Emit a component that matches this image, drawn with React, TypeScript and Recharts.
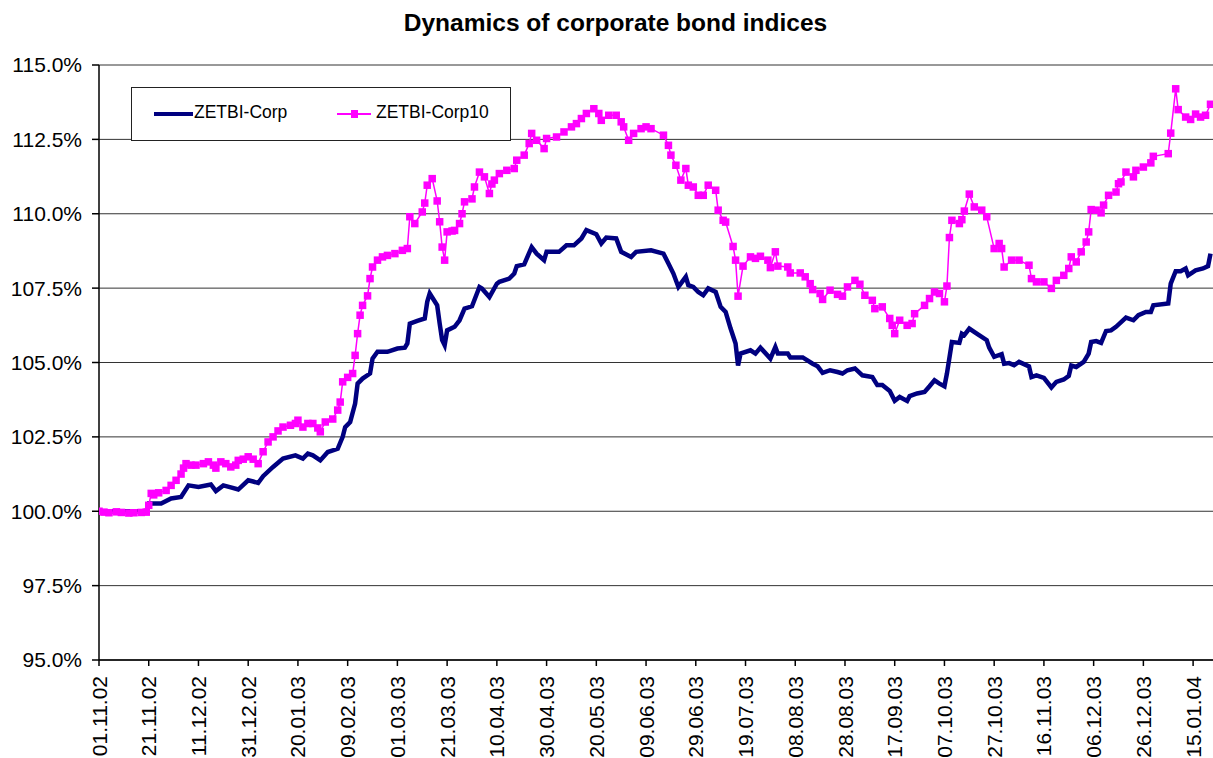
// Dynamics of corporate bond indices (ZETBI), Excel-like line chart, recharts.
import { LineChart, Line, XAxis, YAxis, CartesianGrid } from "recharts";

const FONT = "'Liberation Sans', Arial, sans-serif";

// x = days since 01.11.02
const tickDays = [0, 20, 40, 60, 80, 100, 120, 140, 160, 180, 200, 220, 240, 260, 280, 300, 320, 340, 360, 380, 400, 420, 440];
const tickLabels = [
  "01.11.02", "21.11.02", "11.12.02", "31.12.02", "20.01.03", "09.02.03", "01.03.03", "21.03.03",
  "10.04.03", "30.04.03", "20.05.03", "09.06.03", "29.06.03", "19.07.03", "08.08.03", "28.08.03",
  "17.09.03", "07.10.03", "27.10.03", "16.11.03", "06.12.03", "26.12.03", "15.01.04",
];
const yTicks = [95, 97.5, 100, 102.5, 105, 107.5, 110, 112.5, 115];

const corpDays = [
  0, 5, 10, 15, 19, 20, 25, 29, 33, 36, 40, 45, 47, 50, 53, 56, 60, 62, 64, 66, 70, 74, 79, 82, 84, 86, 89, 92,
  96, 98, 99, 101, 103, 104, 106, 109, 110, 112, 116, 120, 123, 124, 125, 128, 131, 132, 133, 136, 137, 138, 139,
  140, 143, 145, 147, 150, 153, 154, 157, 160, 161, 165, 167, 168, 171, 174, 176, 179, 180, 185, 188, 191, 194,
  196, 200, 202, 204, 208, 210, 214, 216, 222, 227, 229, 231, 233, 236, 237, 239, 241, 243, 245, 248, 250, 252,
  254, 256, 257, 258, 262, 264, 266, 270, 272, 273, 277, 278, 283, 287, 289, 291, 294, 297, 299, 301, 304, 307,
  311, 313, 315, 318, 320, 322, 325, 326, 329, 332, 334, 336, 338, 340, 341, 343, 346, 347, 348, 350, 353, 357,
  358, 360, 363, 364, 366, 368, 370, 374, 375, 377, 380, 383, 385, 388, 390, 391, 393, 396, 398, 399, 401, 403,
  405, 407, 409, 413, 416, 418, 421, 423, 424, 430, 431, 433, 435, 437, 438, 441, 444, 446, 447,
];
const corpValues = [
  100.0, 100.0, 100.0, 100.0, 100.0, 100.26, 100.26, 100.43, 100.48, 100.87, 100.82, 100.9, 100.68, 100.87, 100.8,
  100.73, 101.04, 101.0, 100.95, 101.18, 101.49, 101.77, 101.88, 101.77, 101.94, 101.88, 101.71, 101.99, 102.1,
  102.5, 102.83, 103.0, 103.62, 104.29, 104.46, 104.63, 105.13, 105.36, 105.36, 105.47, 105.5, 105.64, 106.31,
  106.4, 106.48, 107.04, 107.32, 106.92, 106.31, 105.75, 105.58, 106.08, 106.2, 106.42, 106.81, 106.89, 107.54,
  107.49, 107.2, 107.65, 107.71, 107.82, 107.99, 108.24, 108.3, 108.88, 108.66, 108.44, 108.72, 108.72, 108.94,
  108.94, 109.17, 109.45, 109.31, 109.0, 109.2, 109.17, 108.72, 108.55, 108.72, 108.77, 108.66, 108.33, 107.99,
  107.54, 107.88, 107.6, 107.54, 107.37, 107.26, 107.49, 107.37, 106.87, 106.7, 106.14, 105.64, 104.9, 105.3,
  105.41, 105.3, 105.5, 105.13, 105.52, 105.3, 105.3, 105.17, 105.17, 104.96, 104.87, 104.65, 104.74, 104.68,
  104.63, 104.74, 104.8, 104.57, 104.51, 104.24, 104.24, 104.04, 103.71, 103.84, 103.71, 103.87, 103.96, 104.01,
  104.2, 104.4, 104.29, 104.2, 104.63, 105.69, 105.66, 105.97, 105.92, 106.14, 105.97, 105.75, 105.5, 105.19,
  105.28, 104.96, 104.98, 104.91, 105.02, 104.87, 104.51, 104.57, 104.48, 104.16, 104.35, 104.43, 104.55, 104.9,
  104.85, 105.02, 105.3, 105.69, 105.72, 105.66, 106.06, 106.08, 106.2, 106.51, 106.42, 106.59, 106.7, 106.7,
  106.92, 106.98, 107.65, 108.07, 108.07, 108.16, 107.93, 108.1, 108.16, 108.24, 108.66,
];

const corp10Days = [
  0, 2, 4, 7, 9, 12, 14, 17, 19, 20, 21, 22, 24, 27, 29, 31, 33, 34, 35, 37, 39, 42, 44, 46, 47, 49, 51, 53, 55,
  56, 58, 60, 62, 64, 66, 68, 70, 72, 74, 77, 79, 80, 82, 84, 86, 88, 89, 91, 94, 96, 97, 98, 100, 102, 103, 104,
  105, 106, 108, 109, 110, 112, 114, 116, 119, 122, 124, 125, 127, 130, 131, 132, 134, 136, 137, 138, 139, 140,
  142, 143, 145, 146, 147, 150, 151, 153, 155, 157, 158, 159, 161, 164, 167, 168, 171, 173, 174, 176, 179, 180,
  184, 187, 190, 192, 194, 196, 199, 201, 202, 205, 208, 210, 211, 213, 215, 218, 220, 222, 227, 229, 230, 232,
  234, 236, 237, 239, 241, 243, 245, 248, 249, 251, 252, 255, 256, 257, 259, 262, 264, 266, 269, 270, 272, 273,
  277, 278, 282, 284, 286, 287, 290, 291, 294, 297, 299, 301, 304, 306, 308, 311, 312, 315, 318, 319, 320, 322,
  325, 327, 328, 332, 334, 336, 338, 340, 341, 342, 343, 346, 347, 348, 350, 352, 355, 357, 360, 362, 363, 364,
  367, 370, 374, 375, 377, 380, 383, 385, 388, 390, 391, 393, 395, 397, 398, 399, 401, 403, 404, 406, 409, 410,
  411, 413, 416, 417, 420, 423, 424, 430, 431, 433, 434, 437, 439, 441, 443, 445, 447,
];
const corp10Values = [
  100.0, 99.97, 99.95, 99.98, 99.96, 99.94, 99.95, 99.96, 99.97, 100.2, 100.6, 100.55, 100.62, 100.7, 100.87,
  101.04, 101.25, 101.45, 101.6, 101.55, 101.55, 101.6, 101.66, 101.55, 101.45, 101.66, 101.6, 101.49, 101.55,
  101.71, 101.75, 101.83, 101.75, 101.6, 102.0, 102.33, 102.5, 102.7, 102.83, 102.89, 102.95, 103.06, 102.83,
  102.95, 102.95, 102.8, 102.67, 103.0, 103.1, 103.4, 103.67, 104.35, 104.5, 104.63, 105.24, 105.97, 106.59,
  106.92, 107.24, 107.82, 108.21, 108.44, 108.55, 108.6, 108.66, 108.77, 108.83, 109.9, 109.67, 110.06, 110.36,
  110.96, 111.18, 110.43, 109.73, 108.88, 108.44, 109.39, 109.42, 109.44, 109.67, 110.0, 110.4, 110.5, 110.9,
  111.4, 111.24, 110.68, 111.0, 111.13, 111.35, 111.46, 111.52, 111.8, 111.97, 112.36, 112.7, 112.47, 112.19,
  112.53, 112.58, 112.75, 112.92, 113.03, 113.2, 113.37, 113.53, 113.37, 113.14, 113.31, 113.31, 113.09, 112.92,
  112.47, 112.7, 112.86, 112.92, 112.86, 112.64, 112.3, 111.97, 111.63, 111.13, 111.52, 110.96, 110.9, 110.62,
  110.62, 110.96, 110.79, 110.12, 109.78, 109.72, 108.9, 108.44, 107.23, 108.24, 108.55, 108.5, 108.57, 108.44,
  108.19, 108.72, 108.24, 108.21, 108.01, 108.01, 107.88, 107.65, 107.45, 107.32, 107.12, 107.43, 107.29, 107.23,
  107.54, 107.76, 107.63, 107.26, 107.09, 106.81, 106.87, 106.48, 106.25, 105.97, 106.42, 106.25, 106.31, 106.64,
  106.92, 107.15, 107.37, 107.32, 107.04, 107.57, 109.2, 109.78, 109.67, 109.8, 110.09, 110.66, 110.23, 110.12,
  109.9, 108.83, 109.0, 108.83, 108.21, 108.44, 108.44, 108.27, 107.82, 107.71, 107.71, 107.49, 107.76, 107.93,
  108.16, 108.55, 108.38, 108.72, 109.05, 109.39, 110.14, 110.12, 110.03, 110.29, 110.62, 110.73, 111.01, 111.07,
  111.4, 111.24, 111.46, 111.57, 111.71, 111.93, 112.02, 112.71, 114.2, 113.5, 113.25, 113.17, 113.35, 113.25,
  113.31, 113.68,
];

const corpData = corpDays.map((day, i) => ({ day, v: corpValues[i] }));
const corp10Data = corp10Days.map((day, i) => ({ day, v: corp10Values[i] }));

const NAVY = "#000080";
const MAGENTA = "#FF00FF";

function DateTick(props: any) {
  const { x, payload } = props;
  const i = tickDays.indexOf(payload.value);
  const y = 676;
  return (
    <text x={x} y={y} dy="0.36em" transform={`rotate(-90, ${x}, ${y})`} textAnchor="end"
          fontSize={21} fontFamily={FONT} fill="#000">
      {tickLabels[i]}
    </text>
  );
}

function SquareDot(props: any) {
  const { cx, cy, index } = props;
  if (cx == null || cy == null) return <g key={index} />;
  return <rect key={index} x={cx - 3.75} y={cy - 3.75} width={7.5} height={7.5} fill={MAGENTA} />;
}

export default function App() {
  return (
    <div style={{ position: "absolute", left: 0, top: 0, width: 1213, height: 758, background: "#fff", fontFamily: FONT }}>
      <div style={{ position: "absolute", left: 0, width: 1231, top: 9, textAlign: "center", fontSize: 24.5, fontWeight: 700, color: "#000" }}>
        Dynamics of corporate bond indices
      </div>
      <LineChart width={1213} height={758} margin={{ top: 65, right: 0, bottom: 0, left: 0 }}>
        <CartesianGrid horizontal vertical={false} stroke="#333" strokeWidth={1} />
        <XAxis type="number" dataKey="day" domain={[0, 448]} ticks={tickDays} interval={0} height={98}
               tick={<DateTick />} tickSize={6} stroke="#000" strokeWidth={1.5} allowDataOverflow />
        <YAxis type="number" domain={[95, 115]} ticks={yTicks} width={99} tickSize={7} tickMargin={10}
               tickFormatter={(v: number) => `${v.toFixed(1)}%`} stroke="#000" strokeWidth={1.5}
               tick={{ fontSize: 21, fontFamily: FONT, fill: "#000" }} interval={0} allowDataOverflow />
        <Line data={corpData} dataKey="v" type="linear" stroke={NAVY} strokeWidth={4.5} dot={false}
              isAnimationActive={false} />
        <Line data={corp10Data} dataKey="v" type="linear" stroke={MAGENTA} strokeWidth={1.5} dot={<SquareDot />}
              isAnimationActive={false} />
      </LineChart>
      <div style={{ position: "absolute", left: 131, top: 87, width: 380, height: 54, boxSizing: "border-box",
                    border: "1px solid #222", background: "#fff" }}>
        <div style={{ position: "absolute", left: 22, top: 24, width: 39, height: 4, background: NAVY }} />
        <div style={{ position: "absolute", left: 62, top: 13, fontSize: 17.5, lineHeight: "22px" }}>ZETBI-Corp</div>
        <div style={{ position: "absolute", left: 205, top: 25, width: 34, height: 1.5, background: MAGENTA }} />
        <div style={{ position: "absolute", left: 218.5, top: 22, width: 7.5, height: 7.5, background: MAGENTA }} />
        <div style={{ position: "absolute", left: 244, top: 13, fontSize: 17.5, lineHeight: "22px" }}>ZETBI-Corp10</div>
      </div>
    </div>
  );
}
